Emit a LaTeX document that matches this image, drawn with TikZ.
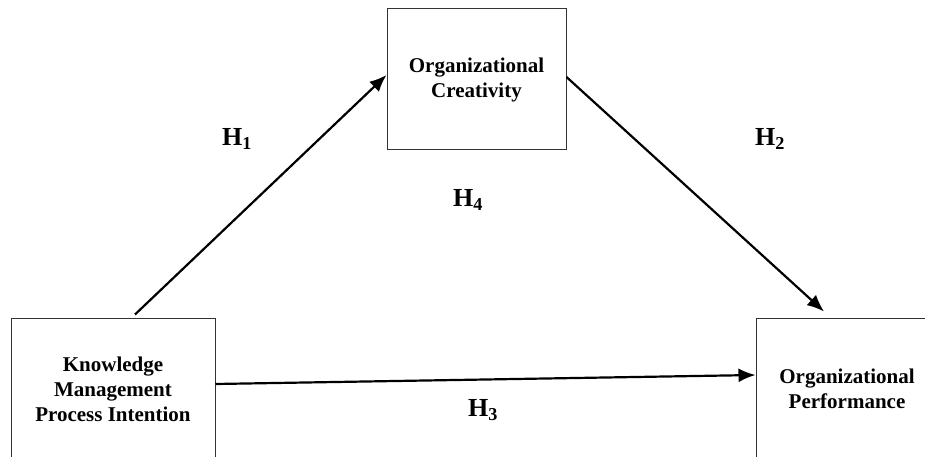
\documentclass[tikz,border=0pt]{standalone}
\usepackage{fontspec}
\setmainfont{Liberation Serif}
\usetikzlibrary{arrows.meta,positioning}

\begin{document}
\begin{tikzpicture}[x=1pt,y=-1pt]
    % Setup the styles for the boxes, arrows and labels
    \tikzset{box style/.style={
        draw=black!80,
        line width=1pt,
        align=center,
        font=\fontsize{21}{25}\selectfont\bfseries},
      arrow style/.style={
        line width=2.2pt,
        -{Latex[length=17pt,width=14pt]}},
      hyp style/.style={
        font=\fontsize{26}{30}\selectfont\bfseries}}
    \useasboundingbox (0,0) rectangle (925,457);

    % Draw the boxes
    \node[box style, minimum width=204pt, minimum height=142pt] at (113, 389)   (kmpi)  {Knowledge\\Management\\Process Intention};
    \node[box style, minimum width=179pt, minimum height=141pt] at (476.5, 79.5) (creat) {Organizational\\Creativity};
    \node[box style, minimum width=182pt, minimum height=142pt] at (847, 389)   (perf)  {Organizational\\Performance};

    % Connect the boxes with arrows
    \draw[arrow style] ([xshift=22pt, yshift=3pt]kmpi.north) -- ([yshift=4.5pt]creat.west);
    \draw[arrow style] ([yshift=2.5pt]creat.east) -- ([xshift=-23pt, yshift=6pt]perf.north);
    \draw[arrow style] ([yshift=5pt]kmpi.east) -- ([yshift=14pt]perf.west);

    % Hypothesis labels
    \node[hyp style] at (237, 139) (h1) {H\textsubscript{1}};
    \node[hyp style] at (770, 139) (h2) {H\textsubscript{2}};
    \node[hyp style] at (483, 410) (h3) {H\textsubscript{3}};
    \node[hyp style] at (468, 200) (h4) {H\textsubscript{4}};
\end{tikzpicture}
\end{document}
